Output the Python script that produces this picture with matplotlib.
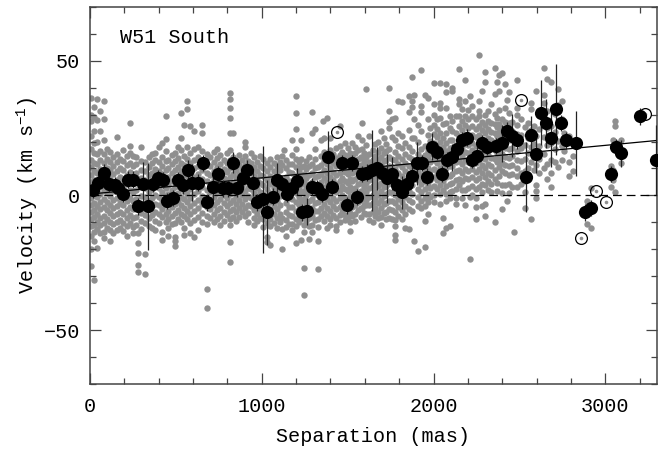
import matplotlib
matplotlib.use("Agg")
import matplotlib.pyplot as plt

plt.rcParams['font.family'] = ['Liberation Mono', 'DejaVu Sans Mono']
plt.rcParams['mathtext.fontset'] = 'custom'
plt.rcParams['mathtext.rm'] = 'Liberation Mono'
plt.rcParams['mathtext.it'] = 'Liberation Mono:italic'

# grey spots: (separation, [velocities]) read column by column
grey_cols = [
    (8, [36, 30, 27.5, 22, 17.3, 13.1, 10.4, 7.6, 4.9, 1.8, -0.9, -3.6, -6.2, -8.8, -11.5, -15, -20, -26]),
    (22, [33, 29, 24, 19.5, 15.6, 12.2, 9.1, 5.7, 2.9, 0.1, -2.8, -5.4, -8.1, -10.9, -13.6, -17, -31.5]),
    (40, [35.8, 28, 20, 15.2, 11.8, 8.3, 5.1, 2.2, -0.6, -3.9, -6.8, -9.7, -12.4, -19.6]),
    (60, [31.2, 24, 16.4, 13.1, 9.7, 6.6, 3.4, 0.5, -2.3, -5.2, -8.3, -11, -14]),
    (80, [34.9, 28.5, 20.4, 15.5, 11.9, 8.8, 5.5, 2.1, -1.2, -4.4, -7.5, -10.2, -13.7, -15.9]),
    (98, [17.4, 13.6, 10.2, 7.1, 3.8, 0.9, -2.4, -5.3, -8.7, -11.9]),
    (115, [16, 12.4, 9.3, 6.2, 2.7, -0.2, -3.5, -6.6, -9.8, -12.7, -17]),
    (135, [14.2, 11.1, 7.9, 4.6, 1.5, -1.7, -4.8, -7.7, -10.6, -14]),
    (155, [21.8, 15.3, 12.3, 8.9, 5.7, 2.4, -0.8, -3.9, -7, -9.9, -13]),
    (175, [13.4, 10.1, 6.8, 3.3, 0.3, -2.9, -6.1, -9.2, -12]),
    (195, [16.8, 12.6, 9.4, 6, 2.8, -0.4, -3.4, -6.9, -10.1, -13.2]),
    (215, [14.7, 11.3, 7.6, 4.1, 0.9, -2.2, -5.5, -8.5, -11.4, -15]),
    (233, [26.7, 18.5, 15.9, 12.1, 8.8, 5.4, 2.2, -1.1, -4.2, -7.3, -10.3]),
    (252, [14.6, 10.8, 7.4, 4.5, 1.1, -2, -5.1, -8.2, -11.6, -13.8]),
    (270, [14.1, 11.7, 8.5, 5.2, 2, -1.3, -4.6, -7.9, -11]),
    (282, [-14, -17.8, -21.5, -25.9, -28.5]),
    (297, [17.8, 12.9, 9.6, 6.3, 3.1, -0.2, -3.2, -6.4, -9.5, -12.3]),
    (320, [12.3, 9, 5.9, 2.6, -0.7, -3.8, -7.1, -10.2, -21.9, -29.3]),
    (342, [14.1, 10.7, 7.7, 4.4, 1.2, -1.9, -5, -8.3, -11.2]),
    (360, [15.4, 11.9, 8.5, 5.5, 2.3, -0.9, -4.1, -7.4, -12.2]),
    (380, [15.9, 13.1, 9.8, 6.6, 3.4, 0.2, -3, -6.3, -9.6, -12.8]),
    (400, [18.1, 12.5, 9.1, 6, 2.8, -0.4, -3.6, -6.8, -10.1]),
    (420, [19.6, 14.4, 11, 7.8, 4.5, 1.4, -1.7, -4.9, -8.1, -13.7, -16.7]),
    (440, [29.6, 21.1, 16.5, 12.6, 9.3, 6.1, 2.9, -0.3, -3.4, -6.7, -9.9]),
    (455, [13.3, 10.2, 7, 3.7, 0.6, -2.6, -5.8, -8.9, -11.9, -15.2]),
    (475, [15, 11.8, 8.5, 5.4, 2.1, -1.1, -4.3, -7.5, -10.6]),
    (495, [15.9, 12.7, 9.6, 6.3, 3.2, 0, -3.1, -6.4, -10.4, -15.4, -18.9, -17]),
    (510, [18.1, 13.9, 10.6, 7.4, 4.1, 1, -2.2, -5.5, -8.6]),
    (528, [30.7, 21.5, 16.8, 12.2, 9, 5.8, 2.6, -0.5, -3.7, -6.9, -10]),
    (545, [26.3, 14.6, 11.4, 8.1, 4.9, 1.8, -1.4, -4.6, -7.7, -12.2, -14.8]),
    (565, [35.2, 31.9, 18, 13.5, 10.3, 7.1, 3.9, 0.7, -2.5, -5.6, -8.8]),
    (582, [25.6, 15.8, 12.1, 8.8, 5.6, 2.5, -0.8, -3.9, -7, -10.3, -14.1]),
    (606, [24.1, 17.2, 13.2, 10, 6.8, 3.6, 0.4, -2.8, -5.9, -9.1, -15.6]),
    (630, [18.1, 14.3, 11.1, 7.9, 4.6, 1.5, -1.7, -4.8, -8, -13]),
    (655, [26.3, 23.0, 16.4, 12.7, 9.5, 6.2, 3, -0.2, -3.3, -6.5, -9.7]),
    (680, [15.3, 11.6, 8.4, 5.2, 2, -1.2, -4.4, -7.5, -10.7, -34.8, -41.9]),
    (700, [14.4, 10.9, 7.6, 4.4, 1.1, -2, -5.2, -8.4]),
    (720, [16.2, 12.3, 9.1, 5.9, 2.7, -0.5, -3.6, -6.8, -9.9]),
    (740, [17.4, 13.8, 10.5, 7.3, 4, 0.9, -2.3, -5.4, -8.6]),
    (760, [15, 11.5, 8.3, 5, 1.8, -1.4, -4.6, -7.7, -10.9]),
    (780, [13.2, 9.9, 6.6, 3.5, 0.3, -2.9, -6.1, -9.3]),
    (798, [15.6, 12, 8.8, 5.6, 2.4, -0.8, -4, -7.1]),
    (815, [38.1, 35.9, 32.6, 28.9, 23.0, 16.7, 13.3, 10, 6.9, 3.6, 0.5, -2.7, -5.9, -8.9, -11.1, -17.4, -24.8]),
    (835, [23.0, 14.4, 11.1, 7.9, 4.7, 1.5, -1.7, -4.9, -8.1]),
    (852, [12.8, 9.5, 6.3, 3.1, -0.1, -3.3, -6.3, -9.4]),
    (870, [14.9, 11.3, 8, 4.8, 1.6, -1.6, -4.7, -7.9]),
    (888, [13.1, 9.8, 6.6, 3.4, 0.2, -3, -6.2]),
    (905, [20.0, 17.8, 14.5, 11.2, 8, 4.9, 1.7, -1.5, -4.6, -7.8]),
    (922, [12.6, 9.4, 6.1, 2.9, -0.3, -3.5, -6.6, -9.7]),
    (938, [15.9, 11.9, 8.7, 5.5, 2.3, -0.9, -4.1]),
    (955, [14.4, 10.6, 7.4, 4.2, 1, -2.2, -5.4, -8.5, -10.8]),
    (975, [12.3, 9.1, 5.8, 2.6, -0.6, -3.8, -7, -9.6]),
    (992, [14.8, 11, 7.7, 4.5, 1.3, -1.9, -5.1, -8.2]),
    (1010, [13.6, 10.3, 7.1, 3.9, 0.7, -2.5, -5.7, -8.8, -11.6]),
    (1030, [12.1, 8.9, 5.7, 2.5, -0.7, -3.9, -7.1, -10.1, -15.6, -17.4]),
    (1050, [13.7, 10.5, 7.3, 4.1, 0.9, -2.3, -5.5, -8.6, -11.4, -18.5]),
    (1070, [12.2, 9, 5.8, 2.6, -0.6, -3.8, -7, -10.1]),
    (1090, [14.1, 10.9, 7.6, 4.4, 1.2, -2, -5.2, -8.3, -12.2]),
    (1108, [12.5, 9.3, 6.1, 2.9, -0.3, -3.5, -6.7, -9.8]),
    (1120, [14.8, 11.4, -8.5, -12.4, -20]),
    (1130, [17.0]),
    (1140, [13.2, 10, 6.8, 3.6, 0.4, -2.8, -6, -9.1, -11.7, -15]),
    (1158, [11.8, 8.6, 5.4, 2.2, -1, -4.2, -7.4, -10.5]),
    (1176, [20.7, 15.1, 11.6, 8.4, 5.2, 2, -1.2, -4.4, -7.5, -10.6, -13]),
    (1197, [37.0, 30.7, 24.8, 17.4, 13.7, 10.4, 7.2, 4, 0.8, -2.4, -5.6, -8.7, -11.2, -17.8]),
    (1215, [12.4, 9.2, 6, 2.8, -0.4, -3.6, -6.8, -9.9]),
    (1229, [20.7, 13.7, 10.6, 7.5, 4.3, 1.1, -2.1, -5.3, -8.4, -16.7]),
    (1245, [11.1, 8.1, 4.9, 1.7, -1.5, -4.7, -7.9, -11, -13.6, -27, -37]),
    (1260, [12.9, 9.7, 6.5, 3.3, 0.1, -3.1, -6.3, -9.4]),
    (1275, [14.1, 10.8, 7.6, 4.4, 1.2, -2, -5.2, -8.3, -11.4, -16.3]),
    (1290, [31.1, 23.3, 11.5, 8.3, 5.1, 1.9, -1.3, -4.5, -7.7, -10.8, -13.7]),
    (1310, [24.8, 17.4, 13.4, 10.1, 6.9, 3.7, 0.5, -2.7, -5.9, -9]),
    (1328, [10.4, 7.2, 4, 0.8, -2.4, -5.6, -8.8, -11.8, -17, -27.4]),
    (1345, [20.7, 14.6, 11.3, 8.1, 4.9, 1.7, -1.5, -4.7, -7.8]),
    (1357, [27.8]),
    (1365, [21.5, 16.1, 12.7, 9.5, 6.3, 3.1, -0.1, -3.3, -6.5, -9.6]),
    (1380, [28.9, 14.7, 11.5, 8.3, 5.1, 1.9, -1.3, -4.5, -7.6, -12]),
    (1398, [21.5, 17, 13.4, 10.2, 7, 3.8, 0.6, -2.6, -5.8, -8.9, -11]),
    (1415, [15.2, 12, 8.8, 5.6, 2.4, -0.8, -4, -7.1]),
    (1432, [17.5, 14, 10.8, 7.6, 4.4, 1.2, -2, -5.2, -8.3, -11.5, -13]),
    (1456, [25.6, 18.3, 14.9, 11.7, 8.5, 5.3, 2.1, -1.1, -4.3, -7.4, -10]),
    (1470, [16.2, 13, 9.8, 6.6, 3.4, 0.2, -3, -6.2]),
    (1485, [19.3, 15.1, 11.9, 8.7, 5.5, 2.3, -0.9, -4.1, -7.2, -9]),
    (1500, [17.6, 14.3, 11.1, 7.9, 4.7, 1.5, -1.7, -4.9, -8]),
    (1514, [15.9, 12.6, 9.4, 6.2, 3, -0.2, -3.4, -6.6, -9.7, -13.3]),
    (1528, [19.5, 14.8, 11.6, 8.4, 5.2, 2, -1.2, -4.4, -7.5]),
    (1543, [18, 15.6, 12.4, 9.2, 6, 2.8, -0.4, -3.6, -6.8, -9.3]),
    (1560, [22, 16.9, 13.7, 10.5, 7.3, 4.1, 0.9, -2.3, -5.5]),
    (1575, [14.4, 11.2, 8, 4.8, 1.6, -1.6, -4.8, -8]),
    (1585, [26.7, 20.7, 17.3, 13.9, -4.8]),
    (1595, [15.8, 12.6, 9.4, 6.2, 3, -0.2, -3.4, -6.6]),
    (1607, [39.6, 18.8, 14.2, 11, 7.8, 4.6, 1.4, -1.8, -3.7, -7]),
    (1625, [22, 15.5, 12.3, 9.1, 5.9, 2.7, -0.5, -3.7, -6.9, -9]),
    (1645, [16.7, 13.1, 9.9, 6.7, 3.5, 0.3, -2.9, -6.1, -10]),
    (1660, [19.2, 14.6, 11.4, 8.2, 5, 1.8, -1.4, -4.6, -7.8]),
    (1675, [20, 16.3, 13.1, 9.9, 6.7, 3.5, 0.3, -2.9, -6.1, -8.4]),
    (1695, [24, 17.6, 14.4, 11.2, 8, 4.8, 1.6, -1.6, -4.8, -7.9, -11]),
    (1710, [21.4, 15.9, 12.7, 9.5, 6.3, 3.1, -0.1, -3.3, -6.5]),
    (1725, [19, 16.4, 13.2, 10, 6.8, 3.6, 0.4, -2.8, -6, -8.6]),
    (1742, [40.0, 31.5, 27.4, 25.2, 17.4, 14.1, 10.9, 7.7, 4.5, 1.3, -1.9, -5.1, -8.3]),
    (1760, [28.5, 21.8, 13.7, 10.6, 7.4, 4.2, 1, -2.2, -5.4, -8.6]),
    (1775, [28.9, 20.7, 16.3, 13.1, 9.9, 6.7, 3.5, 0.3, -2.9, -6.1, -9.2, -11.5, -14.8, -16.7]),
    (1795, [35.2, 23.0, 18.4, 14.8, 11.6, 8.4, 5.2, 2, -1.2, -4.4, -7.6]),
    (1815, [34.8, 22.2, 17.5, 13.7, 10.5, 7.3, 4.1, 0.9, -2.3, -5.5, -8.7]),
    (1834, [19.3, 15.4, 12.2, 9, 5.8, 2.6, -0.6, -3.8, -7, -12.2]),
    (1858, [37.0, 31.1, 24.3, 17.8, 14.3, 11.1, 7.9, 4.7, 1.5, -1.7, -4.9, -12.6]),
    (1877, [44.1, 35.2, 33.0, 21.2, 16.6, 13.4, 10.2, 7, 3.8, 0.6, -2.6, -5.8]),
    (1888, [37.4, 28.5, 21.5, -17]),
    (1910, [26.3, 19.9, 15.3, 12.1, 8.9, 5.7, 2.5, -0.7, -3.9, -20.7]),
    (1925, [46.7, 33.3, 31.1, 24.1, 17.4, 14, 10.8, 7.6, 4.4, 1.2, -2, -4.8]),
    (1950, [37.4, 18.5, 15.1, 11.9, 8.7, 5.5, 2.3, -0.9, -4.1, -9.3, -19.3]),
    (1965, [36.3, 28.2, 22.4, 16.6, 13.4, 10.2, 7, 3.8, 0.6, -2.6, -6.7]),
    (1982, [25.2, 20.1, 15.5, 12.3, 9.1, 5.9, 2.7, -0.5]),
    (2005, [41.9, 34.1, 30.0, 26.1, 22.7, 19.5, 16.3, 13.1, 9.9, 6.7, 3.5, 0.3, -2.4]),
    (2020, [28.2, 24.8, 21.6, 18.4, 15.2, 12, 8.8, 5.6, 2.4]),
    (2035, [41.9, 34.4, 32.6, 28.9, 23.0, 19.8, 16.6, 13.4, 10.2, 7, 3.8, 0.6, -3]),
    (2055, [26.4, 21.2, 18, 14.8, 11.6, 8.4, 5.2, 2, -8.5, -14.1]),
    (2075, [41.5, 38.5, 32.6, 26.7, 23.0, 19.6, 16.4, 13.2, 10, 6.8, 3.6, 0.4, -2.2, -11.9]),
    (2095, [29.3, 25.1, 20.7, 17.5, 14.3, 11.1, 7.4, 4.3, 1.1, -1, -11.5]),
    (2110, [40.0, 38.9, 27.6, 23.9, 20.7, 17.5, 14.3, 11.1, 7.9, 4.7, 1.5]),
    (2130, [29.3, 23.3, 18.8, 15.6, 12.4, 9.2, 5.6, 2.4, -0.8, -3]),
    (2150, [47.0, 35.9, 34.1, 29.3, 25.7, 22.2, 19, 15.8, 12.6, 9.4, 6.2, 3.7]),
    (2165, [32.2, 27.6, 24.4, 21.2, 18, 14.8, 11.6, 8.4, 5.2, 2, -1]),
    (2184, [43.0, 35.2, 29.3, 26, 22.6, 19.4, 16.2, 13, 9.8, 6.6, 1.9, -3.7]),
    (2200, [31.8, 28.4, 25.2, 22, 18.8, 15.6, 12.4, 9.2, 6, 2.8]),
    (2210, [37.0, -0.7, -23.7]),
    (2225, [33.3, 29.3, 25.7, 22.5, 19.3, 16.7, 13.1, 9.9, 6.7, 3.5, 0.3]),
    (2245, [28.4, 24.8, 21.6, 18.4, 15.2, 12, 8.8, 5.6, 2.4, -0.8, -4.2, -8.9]),
    (2265, [52.2, 35.2, 31.5, 29.3, 25.8, 22.6, 19.4, 16.2, 13, 9.8, 6.3, 3.1]),
    (2283, [38.9, 27.4, 24.2, 21, 17.8, 14.6, 11.4, 8.2, 4.4, 1.2, -4]),
    (2300, [45.9, 42.2, 29.8, 26.2, 23, 19.8, 16.6, 13.4, 10.2, 7, 3.8, -3.3, -7.8]),
    (2315, [31.5, 27.7, 24.5, 21.3, 18.1, 14.9, 11.7, 8.5, 5.3, 2.1]),
    (2335, [33.9, 27, 23.6, 20.4, 17.2, 14, 10.8, 7.6, 4.4, 1.2]),
    (2355, [47.4, 37.8, 30.2, 26.4, 23.2, 20, 16.8, 13.6, 9.3, 6.1, -10]),
    (2370, [42.2, 28.9, 25.3, 22.1, 18.9, 15.7, 12.5, 4.8, 1.6]),
    (2382, [44.8, 38.9, 31.6, 26.6, 23.4, 20.2, 17, 13.8, 10.6, 7.4]),
    (2400, [45.6, 28.5, 24.9, 21.7, 18.5, 15.3, 12.1, 8.9, 4, 0.8, -5.2]),
    (2415, [41.5, 32.6, 27.2, 24, 20.8, 17.6, 14.4, 11.2, 8.5, 3.7]),
    (2425, [35.6, -1.9]),
    (2440, [38.5, 30.6, 26.8, 23.6, 20.4, 17.2, 14, 10.8, 7.6, 4.4, 1]),
    (2458, [27.3, 24.1, 20.9, 17.7, 14.5, 11.3, 8.1, 3.2]),
    (2470, [-13.7]),
    (2487, [43.0, 32.6, 30.0, 26.2, 22.9, 19.7, 16.5, 13.3, 10.1, 7.4, 3]),
    (2510, [28.4, 22.3, 17.6, 12.7, 8.2, 4.1]),
    (2530, [25.3, 18.8, 13.4, 9.1, 5.2, 1.3, -4.8]),
    (2550, [27.0, 21.4, 15.7, 10.2, 6.4]),
    (2565, [34.4, 32.2, 24.3, 18.1, 12.5, -8.9]),
    (2585, [25.6, 19.2, 14.4, 9.6]),
    (2598, [38.9, 22.1, 16.5, 11.2, 3.7, 1.5, -1.1]),
    (2615, [30.2, 24.6, 18.3, 13.5, 8.2]),
    (2640, [47.4, 37.4, 34.4, 28.1, 21.6, 15.3, 10.1]),
    (2660, [43.3, 31.4, 25.2, 18.6, 11.5, 6.2]),
    (2685, [42.2, 25.8, 19.4, 13.1, 8.4, 3.0]),
    (2705, [30.3, 23.5, 17.2, 12.4]),
    (2722, [39.6, 33.7, 26.4, 20.1, 10.7]),
    (2745, [35.2, 28.4, 18.2, 13.0]),
    (2762, [23.3, 16.4]),
    (2790, [22.1, 12.3, 7.2]),
    (2813, [14.8, 9.1]),
    (2895, [-2.2, -10.7]),
    (2918, [2.6, -12.2]),
    (3034, [11.1, 3.1]),
    (3045, [20.4, 9.6, 5.6]),
    (3057, [27.8, 25.6, 1.1]),
    (3069, [19.6, 17]),
    (3090, [20.4, 12.2]),
]

# circled spots
circ_sep = [1439, 2510, 2860, 2947, 3005, 3232]
circ_vel = [23.7, 35.6, -15.9, 1.5, -2.6, 30.4]

# averaged spots with error bars
sep = [16, 47, 82, 111, 146, 163, 192, 221, 250, 280, 309, 338, 367, 396, 425,
       448, 483, 513, 542, 571, 594, 629, 658, 681, 716, 745, 775, 804, 833, 856,
       891, 914, 949, 973, 1008, 1031, 1066, 1089, 1118, 1147, 1176, 1206, 1235,
       1264, 1293, 1322, 1351, 1386, 1409, 1468, 1497, 1526, 1555, 1584, 1613,
       1642, 1672, 1701, 1730, 1759, 1788, 1817, 1846, 1875, 1904, 1934, 1963,
       1992, 2021, 2050, 2079, 2108, 2137, 2167, 2196, 2225, 2254, 2283, 2312,
       2365, 2400, 2429, 2458, 2487, 2539, 2568, 2598, 2627, 2656, 2685, 2714,
       2743, 2772, 2831, 2883, 2918, 3034, 3063, 3093, 3203, 3296]
vel = [2.1, 4.8, 8.5, 4.4, 3.7, 2.6, 0.7, 5.9, 5.9, -4.1, 4.4, -4.1, 4.4, 6.3, 5.6,
       -2.2, -1.1, 5.6, 3.7, 9.3, 4.8, 4.8, 11.9, -2.6, 3.0, 7.8, 2.6, 2.6, 12.2, 2.6,
       6.3, 9.3, 4.8, -2.6, -1.5, -6.3, -0.4, 5.9, 4.1, 0.7, 2.6, 5.2, -6.3,
       -5.9, 3.3, 2.6, 0.7, 14.1, 3.0, 11.9, -3.7, 11.9, -0.7, 8.1, 8.5,
       9.3, 10.0, 8.5, 6.3, 8.1, 3.7, 1.1, 4.4, 7.4, 11.9, 11.9, 7.0,
       18.1, 16.3, 8.1, 13.3, 14.1, 17.4, 20.4, 21.5, 13.0, 14.8, 19.6, 18.1,
       18.5, 19.3, 24.1, 22.2, 20.4, 6.7, 22.6, 15.2, 30.7, 26.7, 21.5, 31.9,
       27.0, 20.4, 19.3, -6.3, -4.8, 8.1, 17.8, 15.6, 29.3, 13.3]
err = [3, 3, 3, 3, 3, 3, 3, 3, 3, 3, 8, 16, 3, 3, 3,
       3, 3, 3, 3, 4, 7, 3, 3, 3, 5, 3, 3, 3, 4, 3,
       3, 4, 5, 3, 20, 12, 3, 6, 3, 3, 3, 5, 3,
       5, 3, 3, 3, 10, 3, 3, 3, 3, 3, 3, 3,
       15, 8, 3, 9, 6, 3, 6, 3, 3, 8, 3, 3,
       5, 3, 3, 3, 5, 3, 3, 3, 3, 3, 3, 3,
       3, 7, 3, 8, 3, 13, 7, 7, 12, 9, 11, 17,
       3, 3, 12, 3, 3, 3, 3, 5, 3, 13]

# linear fit
fit_sep = [0, 3300]
fit_vel = [0.5, 20.4]

gx = [x for x, ys in grey_cols for _ in ys]
gv = [y for _, ys in grey_cols for y in ys]

fig = plt.figure(figsize=(6.71, 4.54), dpi=100)
ax = fig.add_axes([0.134, 0.154, 0.845, 0.831])

ax.plot(gx, gv, 'o', color='#8f8f8f', ms=4.6, mec='none', zorder=1)
ax.plot(circ_sep, circ_vel, 'o', color='#8f8f8f', ms=2.6, mec='none', zorder=2)
ax.plot(circ_sep, circ_vel, 'o', mfc='none', mec='black', ms=8.5, mew=0.9, zorder=2)

ax.axhline(0, color='black', lw=0.9, ls=(0, (7, 4)), zorder=3)
ax.plot(fit_sep, fit_vel, color='black', lw=0.9, zorder=3)

ax.errorbar(sep, vel, yerr=err, fmt='none', ecolor='#222222', elinewidth=0.9,
            capsize=0, zorder=4)
ax.plot(sep, vel, 'o', color='black', ms=9.5, mec='none', zorder=5)

ax.set_xlim(0, 3300)
ax.set_ylim(-70, 70)
ax.set_xticks([0, 1000, 2000, 3000])
ax.set_xticks(range(0, 3301, 200), minor=True)
ax.set_yticks([-50, 0, 50])
ax.set_yticks(range(-70, 71, 10), minor=True)

ax.tick_params(which='both', direction='in', top=True, right=True, color='#444444')
ax.tick_params(which='major', length=8, width=0.9, labelsize=14.5)
ax.tick_params(which='minor', length=4, width=0.9)
ax.tick_params(axis='x', pad=9)
ax.tick_params(axis='y', pad=7)
for s in ax.spines.values():
    s.set_color('#444444')
    s.set_linewidth(1.1)

ax.set_xlabel('Separation (mas)', fontsize=14.5, labelpad=8)
ax.set_ylabel('Velocity (km s$^{-1}$)', fontsize=14.5, labelpad=2)
ax.text(0.053, 0.918, 'W51 South', transform=ax.transAxes, fontsize=14.5,
        ha='left', va='center')

fig.savefig('out.png', dpi=100)
